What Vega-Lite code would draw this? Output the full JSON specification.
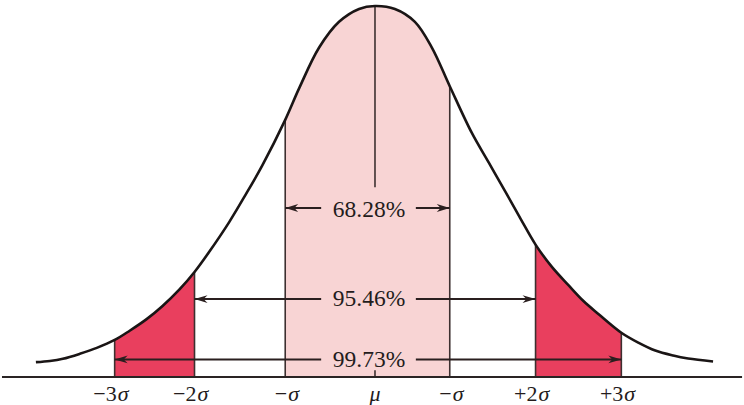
{
  "$schema": "https://vega.github.io/schema/vega-lite/v6.json",
  "width": 744,
  "height": 405,
  "autosize": {"type": "fit", "contains": "padding"},
  "padding": 0,
  "background": "white",
  "config": {"view": {"stroke": null}},
  "datasets": {
    "curve": [
      {"z": -4.0, "h": 0.0382}, {"z": -3.835, "h": 0.0414}, {"z": -3.682, "h": 0.0473},
      {"z": -3.482, "h": 0.0607}, {"z": -3.282, "h": 0.0767}, {"z": -3.071, "h": 0.0981},
      {"z": -2.894, "h": 0.123}, {"z": -2.694, "h": 0.1543}, {"z": -2.506, "h": 0.1898},
      {"z": -2.306, "h": 0.2345}, {"z": -2.129, "h": 0.2816}, {"z": -1.953, "h": 0.3369},
      {"z": -1.718, "h": 0.4171}, {"z": -1.529, "h": 0.4893}, {"z": -1.329, "h": 0.5695},
      {"z": -1.059, "h": 0.6925}, {"z": -0.894, "h": 0.7781}, {"z": -0.659, "h": 0.8877},
      {"z": -0.424, "h": 0.9572}, {"z": -0.188, "h": 0.992}, {"z": 0.0, "h": 1.0},
      {"z": 0.235, "h": 0.992}, {"z": 0.471, "h": 0.9572}, {"z": 0.671, "h": 0.8877},
      {"z": 0.882, "h": 0.7834}, {"z": 1.141, "h": 0.6578}, {"z": 1.341, "h": 0.5775},
      {"z": 1.541, "h": 0.4973}, {"z": 1.718, "h": 0.4251}, {"z": 1.894, "h": 0.3556},
      {"z": 2.082, "h": 0.2968}, {"z": 2.282, "h": 0.246}, {"z": 2.459, "h": 0.2032},
      {"z": 2.635, "h": 0.1684}, {"z": 2.906, "h": 0.1176}, {"z": 3.106, "h": 0.0909},
      {"z": 3.306, "h": 0.0695}, {"z": 3.518, "h": 0.0561}, {"z": 3.694, "h": 0.0481},
      {"z": 3.988, "h": 0.0401}
    ],
    "rules": [
      {"z": -3.071, "h": 0.0981, "h2": 0},
      {"z": -2.129, "h": 0.2816, "h2": 0},
      {"z": -1.059, "h": 0.6925, "h2": 0},
      {"z": 0.882, "h": 0.7834, "h2": 0},
      {"z": 1.894, "h": 0.3556, "h2": 0},
      {"z": 2.906, "h": 0.1176, "h2": 0},
      {"z": 0.0, "h": 1.0, "h2": 0.5107},
      {"z": 0.0, "h": 0.016, "h2": 0}
    ],
    "baseline": [{"z": -4.4, "z2": 4.33, "h": -0.002}],
    "arrows": [
      {"label": "68.28%", "z": -1.059, "z2": -0.635, "h": 0.4545},
      {"label": "68.28%", "z": 0.482, "z2": 0.882, "h": 0.4545},
      {"label": "95.46%", "z": -2.129, "z2": -0.635, "h": 0.2086},
      {"label": "95.46%", "z": 0.482, "z2": 1.894, "h": 0.2086},
      {"label": "99.73%", "z": -3.071, "z2": -0.635, "h": 0.0455},
      {"label": "99.73%", "z": 0.482, "z2": 2.906, "h": 0.0455}
    ],
    "heads": [
      {"z": -1.059, "h": 0.4545, "dir": "left"},
      {"z": 0.882, "h": 0.4545, "dir": "right"},
      {"z": -2.129, "h": 0.2086, "dir": "left"},
      {"z": 1.894, "h": 0.2086, "dir": "right"},
      {"z": -3.071, "h": 0.0455, "dir": "left"},
      {"z": 2.906, "h": 0.0455, "dir": "right"}
    ],
    "pct": [
      {"z": -0.071, "h": 0.4305, "text": "68.28%"},
      {"z": -0.071, "h": 0.1898, "text": "95.46%"},
      {"z": -0.071, "h": 0.0241, "text": "99.73%"}
    ],
    "ticks": [
      {"z": -3.071, "h": -0.0668, "pre": "−3", "sym": "σ"},
      {"z": -2.129, "h": -0.0668, "pre": "−2", "sym": "σ"},
      {"z": -1.059, "h": -0.0668, "pre": "−", "sym": "σ"},
      {"z": 0.0, "h": -0.0668, "pre": "", "sym": "μ"},
      {"z": 0.882, "h": -0.0668, "pre": "−", "sym": "σ"},
      {"z": 1.894, "h": -0.0668, "pre": "+2", "sym": "σ"},
      {"z": 2.906, "h": -0.0668, "pre": "+3", "sym": "σ"}
    ]
  },
  "encoding": {
    "x": {"field": "z", "type": "quantitative", "scale": {"domain": [-4.4235, 4.3294], "nice": false, "zero": false}, "axis": null},
    "y": {"field": "h", "type": "quantitative", "scale": {"domain": [-0.0775, 1.0053], "nice": false, "zero": false}, "axis": null}
  },
  "layer": [
    {
      "data": {"name": "curve"},
      "transform": [{"filter": {"field": "z", "range": [-1.06, 0.883]}}],
      "mark": {"type": "area", "interpolate": "catmull-rom", "color": "#F8D4D4"},
      "encoding": {"y2": {"datum": 0}}
    },
    {
      "data": {"name": "curve"},
      "transform": [{"filter": {"field": "z", "range": [-3.072, -2.128]}}],
      "mark": {"type": "area", "interpolate": "catmull-rom", "color": "#E93F5E"},
      "encoding": {"y2": {"datum": 0}}
    },
    {
      "data": {"name": "curve"},
      "transform": [{"filter": {"field": "z", "range": [1.893, 2.907]}}],
      "mark": {"type": "area", "interpolate": "catmull-rom", "color": "#E93F5E"},
      "encoding": {"y2": {"datum": 0}}
    },
    {
      "data": {"name": "rules"},
      "mark": {"type": "rule", "color": "#3d3030", "strokeWidth": 1.6},
      "encoding": {"y2": {"field": "h2"}}
    },
    {
      "data": {"name": "curve"},
      "mark": {"type": "line", "interpolate": "catmull-rom", "color": "#1a1515", "strokeWidth": 2.6},
      "encoding": {}
    },
    {
      "data": {"name": "baseline"},
      "mark": {"type": "rule", "color": "#2a2424", "strokeWidth": 2},
      "encoding": {"x2": {"field": "z2"}}
    },
    {
      "data": {"name": "arrows"},
      "mark": {"type": "rule", "color": "#2a1f1f", "strokeWidth": 2},
      "encoding": {"x2": {"field": "z2"}}
    },
    {
      "data": {"name": "heads"},
      "mark": {"type": "point", "filled": true, "opacity": 1, "size": 169, "color": "#2a1f1f", "strokeWidth": 0},
      "encoding": {
        "shape": {"field": "dir", "type": "nominal", "legend": null,
          "scale": {"domain": ["left", "right"], "range": ["M0,0L2,-0.6L1.4,0L2,0.6Z", "M0,0L-2,-0.6L-1.4,0L-2,0.6Z"]}}
      }
    },
    {
      "data": {"name": "pct"},
      "mark": {"type": "text", "font": "Liberation Serif", "fontSize": 23.5, "color": "#241c1c", "align": "center", "baseline": "alphabetic"},
      "encoding": {"text": {"field": "text"}}
    },
    {
      "data": {"name": "ticks"},
      "transform": [{"filter": "datum.pre != ''"}],
      "mark": {"type": "text", "font": "Liberation Serif", "fontSize": 22, "color": "#241c1c", "align": "right", "baseline": "alphabetic", "dx": 2},
      "encoding": {"text": {"field": "pre"}}
    },
    {
      "data": {"name": "ticks"},
      "transform": [{"filter": "datum.pre != ''"}],
      "mark": {"type": "text", "font": "Liberation Serif", "fontStyle": "italic", "fontSize": 22, "color": "#241c1c", "align": "left", "baseline": "alphabetic", "dx": 3},
      "encoding": {"text": {"field": "sym"}}
    },
    {
      "data": {"name": "ticks"},
      "transform": [{"filter": "datum.pre == ''"}],
      "mark": {"type": "text", "font": "Liberation Serif", "fontStyle": "italic", "fontSize": 22, "color": "#241c1c", "align": "center", "baseline": "alphabetic"},
      "encoding": {"text": {"field": "sym"}}
    }
  ]
}
